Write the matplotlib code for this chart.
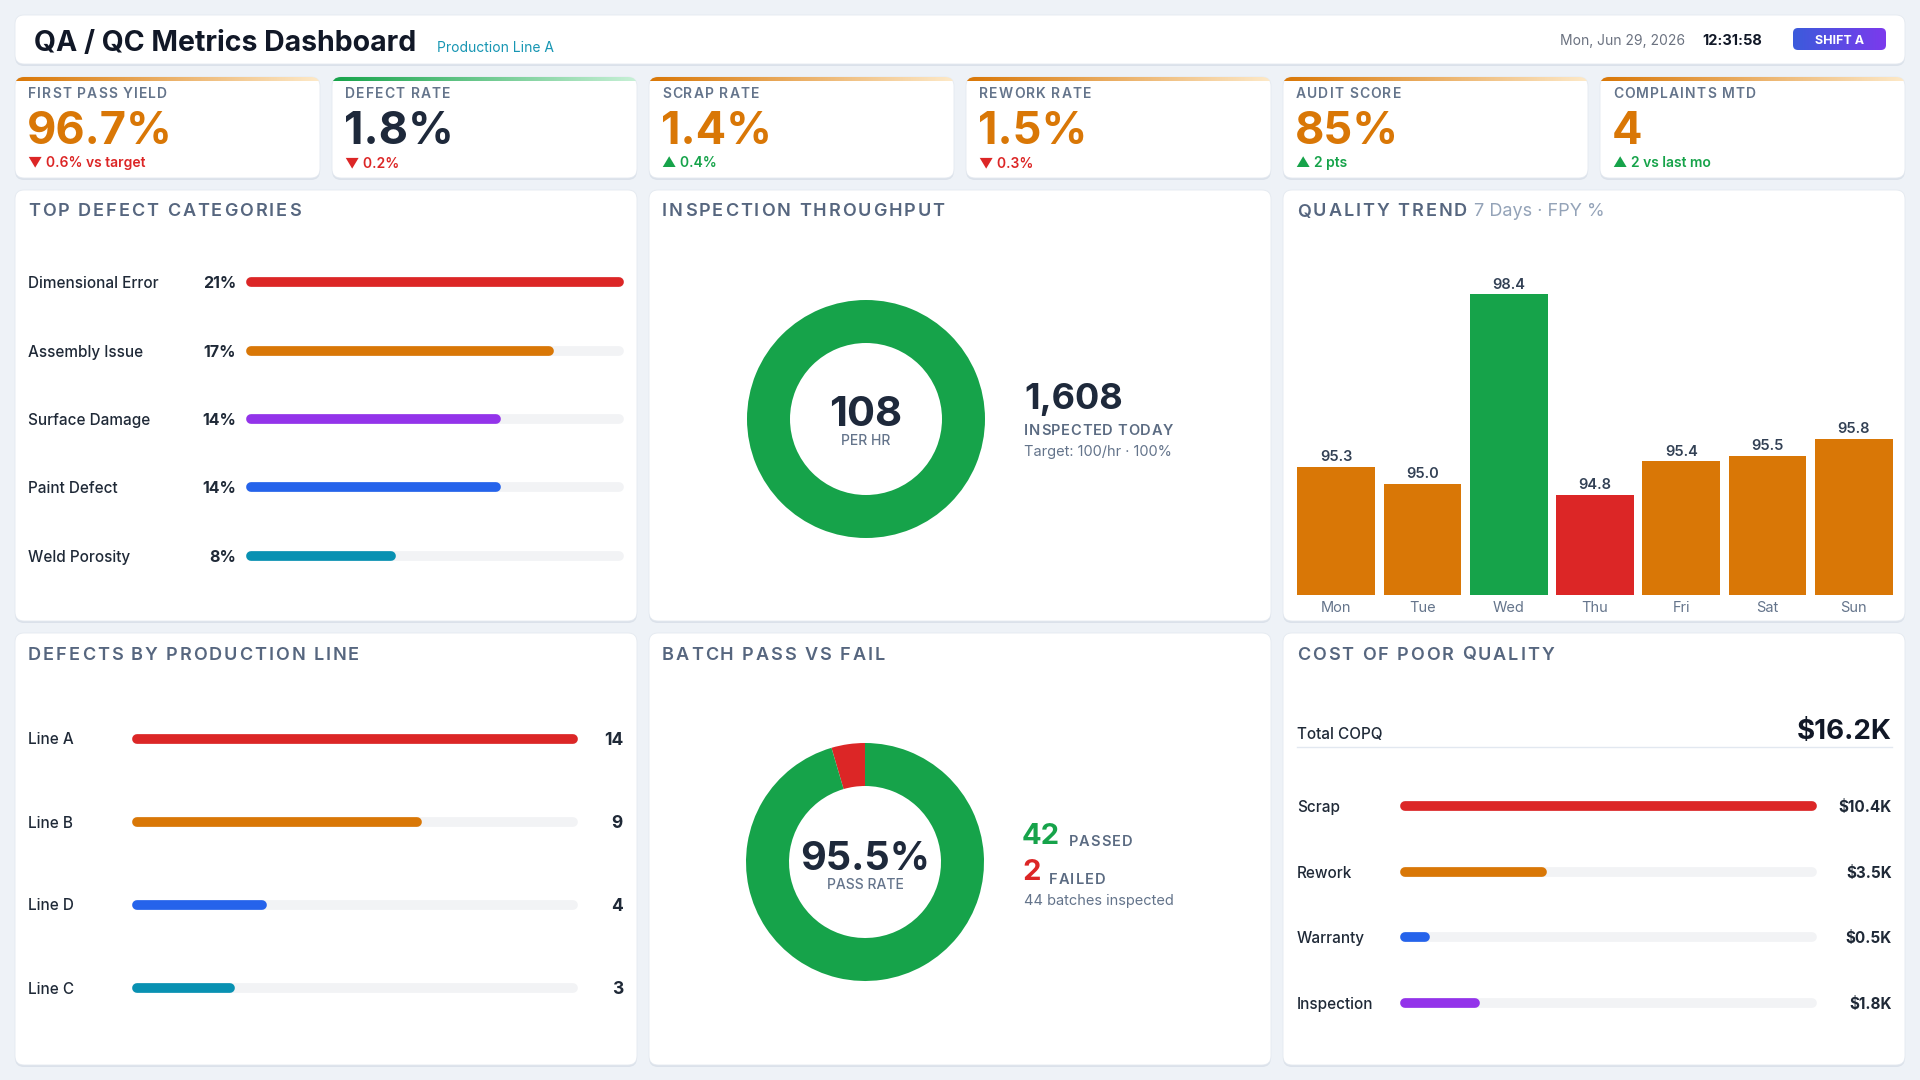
import numpy as np
import matplotlib
matplotlib.use('Agg')
import matplotlib.pyplot as plt
import matplotlib.transforms as mtransforms
from matplotlib.patches import FancyBboxPatch
from matplotlib.colors import LinearSegmentedColormap

plt.rcParams['font.family'] = ['Inter', 'DejaVu Sans']

# ---- data ----
dashboard_title = 'QA / QC Metrics Dashboard'
line_name = 'Production Line A'
date_text = 'Mon, Jun 29, 2026'
time_text = '12:31:58'
shift_text = 'SHIFT A'

kpi_labels = ['FIRST PASS YIELD', 'DEFECT RATE', 'SCRAP RATE', 'REWORK RATE', 'AUDIT SCORE', 'COMPLAINTS MTD']
kpi_values = ['96.7%', '1.8%', '1.4%', '1.5%', '85%', '4']
kpi_deltas = ['0.6% vs target', '0.2%', '0.4%', '0.3%', '2 pts', '2 vs last mo']
kpi_delta_up = [False, False, True, False, True, True]

defect_categories = ['Dimensional Error', 'Assembly Issue', 'Surface Damage', 'Paint Defect', 'Weld Porosity']
defect_pcts = [21, 17, 14, 14, 8]

throughput_per_hr = 108
target_per_hr = 100
inspected_today = 1608

days = ['Mon', 'Tue', 'Wed', 'Thu', 'Fri', 'Sat', 'Sun']
fpy = [95.3, 95.0, 98.4, 94.8, 95.4, 95.5, 95.8]

prod_lines = ['Line A', 'Line B', 'Line D', 'Line C']
line_defects = [14, 9, 4, 3]

batches_passed = 42
batches_failed = 2

copq_categories = ['Scrap', 'Rework', 'Warranty', 'Inspection']
copq_values = [10.4, 3.5, 0.5, 1.8]  # $K

# ---- style ----
W, H = 1920, 1080
BG = '#eef2f7'
DARK = '#1e293b'
MUTED = '#64748b'
HEAD = '#56667f'
ORANGE = '#d97706'
GREEN = '#16a34a'
RED = '#dc2626'
BLUE = '#2563eb'
PURPLE = '#9333ea'
TEAL = '#0891b2'
TRACK = '#f2f3f5'

kpi_value_colors = [ORANGE, DARK, ORANGE, ORANGE, ORANGE, ORANGE]
kpi_accents = [(ORANGE, '#fde9c8'), (GREEN, '#c7f0d6'), (ORANGE, '#fde9c8'),
               (ORANGE, '#fde9c8'), (ORANGE, '#fde9c8'), (ORANGE, '#fde9c8')]
defect_colors = [RED, ORANGE, PURPLE, BLUE, TEAL]
line_colors = [RED, ORANGE, BLUE, TEAL]
copq_colors = [RED, ORANGE, BLUE, PURPLE]

fig = plt.figure(figsize=(19.2, 10.8), dpi=100, facecolor=BG)
bg = fig.add_axes([0, 0, 1, 1])
bg.axis('off')


def px_axes(x0, y0, x1, y1):
    ax = fig.add_axes([x0 / W, 1 - y1 / H, (x1 - x0) / W, (y1 - y0) / H])
    ax.axis('off')
    return ax


def card(x0, y0, x1, y1, r=9):
    style = f'round,pad=0,rounding_size={r}'
    bg.add_patch(FancyBboxPatch((x0, y0 + 2), x1 - x0, y1 - y0, boxstyle=style,
                                fc='#dbe1ea', ec='none', zorder=1))
    p = FancyBboxPatch((x0, y0), x1 - x0, y1 - y0, boxstyle=style,
                       fc='white', ec='#e4e9f0', lw=0.6, zorder=2)
    bg.add_patch(p)
    return p


def spaced(s, x=None, y=None, anchor=None, gap=0, track=1.0, **kw):
    # draw letter by letter to fake css letter-spacing
    if anchor is None:
        prev = bg.text(x, y, s[0], ha='left', va='center', zorder=5, **kw)
    else:
        prev = bg.annotate(s[0], xy=(1, 0), xycoords=anchor, xytext=(gap, 0),
                           textcoords='offset points', ha='left', va='bottom', zorder=5, **kw)
    for ch in s[1:]:
        prev = bg.annotate(ch, xy=(1, 0), xycoords=prev, xytext=(track, 0),
                           textcoords='offset points', ha='left', va='bottom', zorder=5, **kw)
    return prev


# ---- header ----
hdr = card(15, 15, 1905, 64)
title = bg.text(34, 43, dashboard_title, fontsize=20.5, fontweight='bold', color='#111827',
                va='center', zorder=5)
bg.annotate(line_name, xy=(1, 0), xycoords=title, xytext=(15, 1), textcoords='offset points',
            fontsize=10, color='#1796b3', va='bottom', zorder=5)
bg.text(1685, 41, date_text, fontsize=10, color='#6b7280', ha='right', va='center', zorder=5)
bg.text(1702, 41, time_text, fontsize=10.5, fontweight='bold', color='#111827', va='center', zorder=5)
badge = FancyBboxPatch((1793, 28), 93, 22, boxstyle='round,pad=0,rounding_size=5',
                       fc='none', ec='none', zorder=4)
bg.add_patch(badge)
im = bg.imshow(np.linspace(0, 1, 256).reshape(1, -1),
               cmap=LinearSegmentedColormap.from_list('b', ['#3b5bdb', '#7c3aed']),
               extent=(1793, 1886, 50, 28), aspect='auto', zorder=4)
im.set_clip_path(badge)
bg.text(1839.5, 40.5, shift_text, fontsize=9, fontweight='bold', color='white',
        ha='center', va='center', zorder=5)

# ---- kpi cards ----
for i in range(len(kpi_labels)):
    x0 = 15 + i * 317
    p = card(x0, 77, x0 + 305, 178)
    c0, c1 = kpi_accents[i]
    im = bg.imshow(np.linspace(0, 1, 256).reshape(1, -1),
                   cmap=LinearSegmentedColormap.from_list('k', [c0, c1]),
                   extent=(x0, x0 + 305, 81, 77), aspect='auto', zorder=3)
    im.set_clip_path(p)
    spaced(kpi_labels[i], x0 + 13, 94, track=0.8, fontsize=10, fontweight='semibold', color=MUTED)
    bg.text(x0 + 12, 132, kpi_values[i], fontsize=32.5, fontweight='bold',
            color=kpi_value_colors[i], va='center', zorder=5)
    up = kpi_delta_up[i]
    bg.text(x0 + 13, 163, ('▲ ' if up else '▼ ') + kpi_deltas[i], fontsize=10,
            fontweight='semibold', color=GREEN if up else RED, va='center', zorder=5,
            family=['Inter', 'DejaVu Sans'])

# ---- panels ----
panel_cols = [(15, 637), (649, 1271), (1283, 1905)]
panel_rows = [(190, 621), (633, 1065)]
for (y0, y1) in panel_rows:
    for (x0, x1) in panel_cols:
        card(x0, y0, x1, y1)

ptitle = dict(track=1.4, fontsize=13, fontweight='semibold', color=HEAD)
spaced('TOP DEFECT CATEGORIES', 28, 212, **ptitle)
spaced('INSPECTION THROUGHPUT', 662, 212, **ptitle)
qt = spaced('QUALITY TREND', 1297, 212, **ptitle)
bg.annotate('7 Days · FPY %', xy=(1, 0), xycoords=qt, xytext=(5, 0), textcoords='offset points',
            fontsize=13, color='#94a3b8', va='bottom', zorder=5)
spaced('DEFECTS BY PRODUCTION LINE', 28, 655, **ptitle)
spaced('BATCH PASS VS FAIL', 662, 655, **ptitle)
spaced('COST OF POOR QUALITY', 1297, 655, **ptitle)


def bar_list(ax, labels, values, colors, label_x, value_x, fmt, max_val, value_size):
    n = len(values)
    rows = np.arange(n)
    ax.set_xlim(0, max_val)
    ax.set_ylim(n - 0.5, -0.5)
    ax.hlines(rows, 0, max_val, colors=TRACK, lw=7, capstyle='round', clip_on=False)
    ax.hlines(rows, 0, values, colors=colors, lw=7, capstyle='round', clip_on=False)
    trans = mtransforms.blended_transform_factory(bg.transData, ax.transData)
    for r, lab, v in zip(rows, labels, values):
        ax.text(label_x, r, lab, transform=trans, fontsize=11, fontweight='medium',
                color='#1f2937', va='center_baseline')
        ax.text(value_x, r, fmt(v), transform=trans, fontsize=value_size,
                fontweight='bold', color='#1f2937', va='center_baseline', ha='right')


# top defect categories
ax = px_axes(251, 248, 619, 590)
bar_list(ax, defect_categories, defect_pcts, defect_colors, 28, 236,
         lambda v: f'{v}%', max(defect_pcts), 11.5)

# defects by production line
ax = px_axes(137, 697, 573, 1029)
bar_list(ax, prod_lines, line_defects, line_colors, 28, 623,
         lambda v: f'{v}', max(line_defects), 12.5)

# cost of poor quality
ax = px_axes(1405, 773, 1812, 1036)
bar_list(ax, copq_categories, copq_values, copq_colors, 1297, 1892,
         lambda v: f'${v:.1f}K', max(copq_values), 11)
bg.text(1297, 735, 'Total COPQ', fontsize=11, fontweight='medium', color='#1f2937',
        va='center', zorder=5)
bg.text(1892, 732, f'${sum(copq_values):.1f}K', fontsize=20, fontweight='bold', color='#111827',
        va='center', ha='right', zorder=5)
bg.plot([1297, 1892], [747, 747], color='#e2e8f0', lw=1, zorder=5)

# ---- inspection throughput donut ----
R_OUT, R_IN = 119, 76
cx, cy = 866, 419
ax = px_axes(cx - R_OUT, cy - R_OUT, cx + R_OUT, cy + R_OUT)
filled = min(throughput_per_hr / target_per_hr, 1.0)
ax.pie([filled, 1 - filled], colors=[GREEN, TRACK], startangle=90, counterclock=False,
       wedgeprops=dict(width=(R_OUT - R_IN) / R_OUT, linewidth=0))
ax.set_xlim(-1, 1)
ax.set_ylim(-1, 1)
bg.text(cx, 415, f'{throughput_per_hr}', fontsize=30, fontweight='bold', color=DARK,
        ha='center', va='center', zorder=5)
bg.text(cx, 441, 'PER HR', fontsize=10, fontweight='medium', color=MUTED,
        ha='center', va='center', zorder=5)
bg.text(1024, 400, f'{inspected_today:,}', fontsize=26, fontweight='bold', color=DARK,
        va='center', zorder=5)
spaced('INSPECTED TODAY', 1024, 431, track=0.5, fontsize=10.5, fontweight='semibold', color='#5b6b82')
bg.text(1024, 452, f'Target: {target_per_hr}/hr · {filled * 100:.0f}%', fontsize=10.5,
        color=MUTED, va='center', zorder=5)

# ---- quality trend bars ----
ax = fig.add_axes([1293 / W, 1 - 595 / H, 604 / W, 334 / H])
x = np.arange(len(days))
bar_cols = [GREEN if v == max(fpy) else RED if v == min(fpy) else ORANGE for v in fpy]
ax.bar(x, fpy, width=0.9, color=bar_cols, bottom=0)
ax.set_xlim(-0.5, len(days) - 0.5)
ax.set_ylim(93, 99)
for xi, v in zip(x, fpy):
    ax.annotate(f'{v:.1f}', (xi, v), xytext=(0, 2), textcoords='offset points',
                ha='center', va='bottom', fontsize=10.5, fontweight='semibold', color='#334155')
ax.set_xticks(x, days)
ax.tick_params(axis='x', length=0, pad=4, labelsize=10.5, labelcolor=MUTED)
ax.set_yticks([])
for s in ax.spines.values():
    s.set_visible(False)
ax.patch.set_alpha(0)

# ---- batch pass vs fail donut ----
cx, cy = 865, 862
ax = px_axes(cx - R_OUT, cy - R_OUT, cx + R_OUT, cy + R_OUT)
ax.pie([batches_failed, batches_passed], colors=[RED, GREEN], startangle=90,
       wedgeprops=dict(width=(R_OUT - R_IN) / R_OUT, linewidth=0))
ax.set_xlim(-1, 1)
ax.set_ylim(-1, 1)
total_batches = batches_passed + batches_failed
bg.text(cx, 859, f'{batches_passed / total_batches * 100:.1f}%', fontsize=28.5, fontweight='bold',
        color=DARK, ha='center', va='center', zorder=5)
bg.text(cx, 885, 'PASS RATE', fontsize=10, fontweight='medium', color=MUTED,
        ha='center', va='center', zorder=5)
t = bg.text(1022, 836, f'{batches_passed}', fontsize=21, fontweight='bold', color=GREEN,
            va='center', zorder=5)
spaced('PASSED', anchor=t, gap=6, track=0.8, fontsize=10.5, fontweight='semibold', color='#5b6b82')
t = bg.text(1022, 873, f'{batches_failed}', fontsize=21, fontweight='bold', color=RED,
            va='center', zorder=5)
spaced('FAILED', anchor=t, gap=6, track=0.8, fontsize=10.5, fontweight='semibold', color='#5b6b82')
bg.text(1024, 901, f'{total_batches} batches inspected', fontsize=10.5, color=MUTED,
        va='center', zorder=5)

bg.set_xlim(0, W)
bg.set_ylim(H, 0)
fig.savefig('out.png', dpi=100, facecolor=BG)
